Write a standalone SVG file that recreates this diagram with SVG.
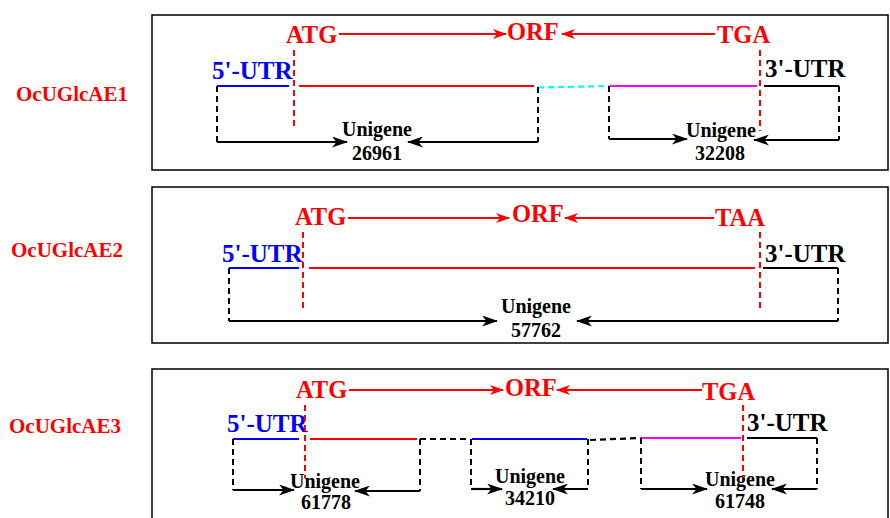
<svg xmlns="http://www.w3.org/2000/svg" width="890" height="518" viewBox="0 0 890 518">
<style>
  text { font-family: "Liberation Serif", "Times New Roman", serif; font-weight: bold; }
  .box { fill: #ffffff; stroke: #000000; stroke-width: 1.5; }
  .gene { fill: #ff0000; font-size: 21px; }
  .codon { fill: #ff0000; font-size: 24.5px; }
  .utr5 { fill: #0000ff; font-size: 25px; }
  .utr3 { fill: #000000; font-size: 25px; }
  .uni { fill: #000000; font-size: 20px; text-anchor: middle; }
  .redarr { stroke: #ff0000; stroke-width: 2; fill: none; marker-end: url(#redhead); }
  .blkarr { stroke: #000000; stroke-width: 2.2; fill: none; marker-end: url(#blkhead); }
  .reddash { stroke: #ff0000; stroke-width: 2; stroke-dasharray: 6 4; fill: none; }
  .blkdash { stroke: #000000; stroke-width: 2; stroke-dasharray: 6 4; fill: none; }
  .seg { stroke-width: 2.2; fill: none; }
</style>
<defs>
  <marker id="redhead" markerUnits="userSpaceOnUse" markerWidth="14" markerHeight="10" refX="13" refY="5" orient="auto">
    <path d="M0,0 L14,5 L0,10 L4,5 z" fill="#ff0000"/>
  </marker>
  <marker id="blkhead" markerUnits="userSpaceOnUse" markerWidth="16" markerHeight="11" refX="15" refY="5.5" orient="auto">
    <path d="M0,0 L16,5.5 L0,11 L4.5,5.5 z" fill="#000000"/>
  </marker>
</defs>

<g id="gene1">
  <rect class="box" x="152" y="15" width="736" height="155"/>
  <text class="gene" x="16" y="101">OcUGlcAE1</text>
  <g id="g1-labels">
    <text class="codon" x="286" y="43">ATG</text>
    <text class="codon" x="507" y="40">ORF</text>
    <text class="codon" x="717" y="43">TGA</text>
    <text class="utr5" x="212" y="79">5'-UTR</text>
    <text class="utr3" x="765" y="77">3'-UTR</text>
  </g>
  <g id="g1-segments">
    <line class="seg" x1="217" y1="86" x2="289" y2="86" stroke="#0000ff"/>
    <line class="seg" x1="299" y1="86" x2="534" y2="86" stroke="#ff0000"/>
    <line class="seg" x1="538" y1="87.5" x2="609" y2="86" stroke="#00ffff" stroke-dasharray="6 4"/>
    <line class="seg" x1="610" y1="86" x2="757" y2="86" stroke="#ff00ff"/>
    <line class="seg" x1="764" y1="86" x2="839" y2="86" stroke="#000000"/>
  </g>
  <g id="g1-unigene1">
    <text class="uni" x="377" y="136">Unigene</text>
    <text class="uni" x="377" y="160">26961</text>
  </g>
  <g id="g1-unigene2">
    <text class="uni" x="721" y="137">Unigene</text>
    <text class="uni" x="720" y="160">32208</text>
  </g>
</g>

<g id="gene2">
  <rect class="box" x="152" y="187" width="736" height="156"/>
  <text class="gene" x="11" y="257">OcUGlcAE2</text>
  <g id="g2-labels">
    <text class="codon" x="295" y="225">ATG</text>
    <text class="codon" x="512" y="222">ORF</text>
    <text class="codon" x="715" y="226">TAA</text>
    <text class="utr5" x="222" y="262">5'-UTR</text>
    <text class="utr3" x="765" y="262">3'-UTR</text>
  </g>
  <g id="g2-segments">
    <line class="seg" x1="229" y1="268" x2="299" y2="268" stroke="#0000ff"/>
    <line class="seg" x1="309" y1="268" x2="755" y2="268" stroke="#ff0000"/>
    <line class="seg" x1="763" y1="268" x2="838" y2="268" stroke="#000000"/>
  </g>
  <g id="g2-unigene">
    <text class="uni" x="536" y="313">Unigene</text>
    <text class="uni" x="536" y="337">57762</text>
  </g>
</g>

<g id="gene3">
  <rect class="box" x="152" y="369" width="736" height="160"/>
  <text class="gene" x="9" y="433">OcUGlcAE3</text>
  <g id="g3-labels">
    <text class="codon" x="296" y="398">ATG</text>
    <text class="codon" x="505" y="396">ORF</text>
    <text class="codon" x="702" y="400">TGA</text>
    <text class="utr5" x="227" y="432">5'-UTR</text>
    <text class="utr3" x="747" y="431">3'-UTR</text>
  </g>
  <g id="g3-segments">
    <line class="seg" x1="233" y1="439" x2="299" y2="439" stroke="#0000ff"/>
    <line class="seg" x1="310" y1="439" x2="417" y2="439" stroke="#ff0000"/>
    <line class="seg" x1="420" y1="439" x2="470" y2="439" stroke="#000000" stroke-dasharray="6 4"/>
    <line class="seg" x1="472" y1="439" x2="587" y2="439" stroke="#0000ff"/>
    <line class="seg" x1="590" y1="440" x2="639" y2="438" stroke="#000000" stroke-dasharray="6 4"/>
    <line class="seg" x1="640" y1="438" x2="741" y2="438" stroke="#ff00ff"/>
    <line class="seg" x1="747" y1="438" x2="817" y2="438" stroke="#000000"/>
  </g>
  <g id="g3-unigene1">
    <text class="uni" x="325" y="488">Unigene</text>
    <text class="uni" x="326" y="509">61778</text>
  </g>
  <g id="g3-unigene2">
    <text class="uni" x="530" y="483">Unigene</text>
    <text class="uni" x="530" y="505">34210</text>
  </g>
  <g id="g3-unigene3">
    <text class="uni" x="740" y="486">Unigene</text>
    <text class="uni" x="740" y="508">61748</text>
  </g>
</g>

<g id="connectors">
  <!-- row 1 -->
  <line class="redarr" x1="339" y1="34" x2="506" y2="34"/>
  <line class="redarr" x1="715" y1="34" x2="562" y2="34"/>
  <line class="reddash" x1="294" y1="50" x2="294" y2="128"/>
  <line class="reddash" x1="760" y1="50" x2="760" y2="131"/>
  <path class="blkdash" d="M217,86 V142"/>
  <path class="blkarr" d="M217,142 H347"/>
  <path class="blkdash" d="M538,87 V142"/>
  <path class="blkarr" d="M538,142 H408"/>
  <path class="blkdash" d="M609,86 V139"/>
  <path class="blkarr" d="M609,139 H687"/>
  <path class="blkdash" d="M839,86 V140"/>
  <path class="blkarr" d="M839,140 H754"/>
  <!-- row 2 -->
  <line class="redarr" x1="348" y1="218" x2="509" y2="218"/>
  <line class="redarr" x1="714" y1="218" x2="565" y2="218"/>
  <line class="reddash" x1="303" y1="232" x2="303" y2="310"/>
  <line class="reddash" x1="760" y1="232" x2="760" y2="312"/>
  <path class="blkdash" d="M229,268 V321"/>
  <path class="blkarr" d="M229,321 H497"/>
  <path class="blkdash" d="M838,268 V321"/>
  <path class="blkarr" d="M838,321 H577"/>
  <!-- row 3 -->
  <line class="redarr" x1="349" y1="390" x2="503" y2="390"/>
  <line class="redarr" x1="702" y1="390" x2="557" y2="390"/>
  <line class="reddash" x1="305" y1="405" x2="305" y2="478"/>
  <line class="reddash" x1="743" y1="405" x2="743" y2="478"/>
  <path class="blkdash" d="M233,439 V490"/>
  <path class="blkarr" d="M233,490 H294"/>
  <path class="blkdash" d="M420,439 V491"/>
  <path class="blkarr" d="M420,491 H355"/>
  <path class="blkdash" d="M471,439 V489"/>
  <path class="blkarr" d="M471,489 H502"/>
  <path class="blkdash" d="M588,439 V489"/>
  <path class="blkarr" d="M588,489 H553"/>
  <path class="blkdash" d="M641,438 V489"/>
  <path class="blkarr" d="M641,489 H707"/>
  <path class="blkdash" d="M817,438 V489"/>
  <path class="blkarr" d="M817,489 H772"/>
</g>
</svg>
